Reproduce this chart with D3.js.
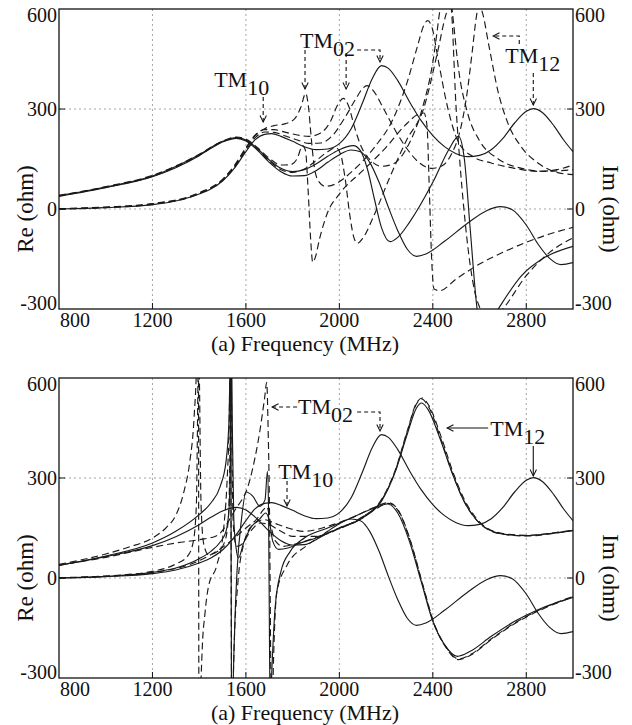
<!DOCTYPE html>
<html>
<head>
<meta charset="utf-8">
<script src="https://d3js.org/d3.v7.min.js"></script>
<style>
  body { margin: 0; background: #fff; }
  svg { display: block; }
</style>
</head>
<body>
<div id="chart"></div>
<script>
// axis ticks
const freqTicks = [800, 1200, 1600, 2000, 2400, 2800];
const ohmTicks = [-300, 0, 300, 600];

// reference case, drawn in both panels  [MHz, ohm]
const reS1 = [[800,0],[1000,4],[1200,13],[1300,24],[1400,45],[1450,60],[1500,84],[1550,122],[1600,172],[1640,208],[1680,224],[1710,226],[1750,218],[1800,203],[1850,187],[1900,178],[1950,180],[2000,196],[2050,240],[2100,320],[2140,390],[2180,430],[2210,422],[2250,385],[2300,322],[2350,265],[2400,220],[2450,187],[2500,166],[2550,157],[2600,161],[2650,178],[2700,212],[2750,258],[2800,293],[2830,301],[2870,289],[2920,248],[2960,207],[3000,172]];
const imS1 = [[800,38],[1000,64],[1200,97],[1300,124],[1400,160],[1450,182],[1500,201],[1560,212],[1600,204],[1650,176],[1700,140],[1750,112],[1800,99],[1850,100],[1900,115],[1950,140],[2000,163],[2050,177],[2090,172],[2130,140],[2170,80],[2210,5],[2250,-65],[2290,-120],[2330,-142],[2370,-135],[2450,-97],[2550,-42],[2630,-5],[2690,7],[2740,-2],[2800,-48],[2850,-105],[2900,-148],[2950,-167],[3000,-161]];

// top panel cases
const reA = [[800,1],[1000,6],[1200,16],[1400,49],[1500,89],[1550,130],[1600,184],[1640,222],[1680,241],[1720,250],[1770,256],[1810,272],[1835,305],[1856,347],[1868,305],[1880,210],[1893,125],[1912,82],[1940,68],[1980,74],[2050,110],[2150,185],[2230,270],[2290,380],[2335,490],[2362,552],[2378,565],[2395,548],[2425,440],[2460,315],[2510,200],[2570,158],[2650,138],[2750,122],[2850,113],[2930,118],[3000,132]];
const imA = [[800,41],[1000,67],[1200,101],[1400,164],[1500,204],[1560,216],[1600,210],[1650,184],[1700,152],[1750,132],[1790,133],[1820,152],[1842,190],[1855,175],[1866,60],[1877,-90],[1886,-160],[1897,-145],[1915,-90],[1950,-10],[2000,45],[2100,115],[2200,185],[2280,250],[2340,285],[2362,288],[2375,250],[2385,60],[2395,-150],[2405,-240],[2430,-245],[2500,-210],[2600,-165],[2700,-130],[2800,-100],[2900,-75],[3000,-55]];
const reB = [[800,0],[1000,5],[1200,15],[1400,47],[1500,87],[1550,127],[1600,181],[1640,220],[1680,238],[1720,238],[1770,230],[1820,222],[1870,218],[1920,228],[1960,260],[1995,315],[2017,332],[2040,308],[2065,245],[2095,185],[2135,145],[2180,128],[2230,135],[2290,185],[2350,290],[2400,440],[2435,620],[2458,720],[2482,600],[2510,420],[2550,285],[2600,205],[2680,150],[2780,122],[2880,113],[3000,118]];
const imB = [[800,39],[1000,65],[1200,98],[1400,161],[1500,202],[1560,213],[1600,206],[1650,179],[1700,144],[1750,118],[1800,110],[1850,120],[1900,145],[1950,172],[1985,184],[2005,165],[2025,90],[2045,-20],[2062,-85],[2077,-103],[2100,-88],[2146,-23],[2217,97],[2288,207],[2360,300],[2420,470],[2455,580],[2475,620],[2500,300],[2540,-50],[2580,-250],[2603,-300],[2630,-350],[2700,-300],[2800,-200],[2900,-130],[3000,-87]];
const reC = [[800,0],[1000,4],[1200,14],[1400,46],[1500,86],[1550,124],[1600,176],[1640,214],[1680,231],[1720,230],[1770,219],[1820,207],[1870,197],[1920,198],[1970,220],[2020,270],[2070,330],[2100,362],[2118,370],[2145,355],[2190,300],[2240,235],[2290,180],[2340,140],[2395,122],[2440,130],[2480,165],[2515,230],[2545,340],[2570,480],[2585,570],[2597,612],[2612,590],[2640,490],[2680,350],[2720,260],[2780,185],[2850,138],[2920,112],[3000,103]];
const imC = [[800,40],[1000,66],[1200,99],[1400,163],[1500,203],[1560,214],[1600,207],[1650,181],[1700,147],[1750,122],[1800,112],[1850,118],[1900,135],[1950,158],[2000,178],[2060,190],[2090,175],[2120,120],[2150,30],[2180,-55],[2217,-98],[2250,-85],[2300,-40],[2400,80],[2470,180],[2510,218],[2535,150],[2560,-60],[2589,-297],[2610,-380],[2680,-300],[2780,-200],[2880,-145],[3000,-112]];

// bottom panel cases
const reD = [[800,0],[1000,5],[1200,17],[1300,30],[1400,58],[1450,80],[1490,108],[1515,140],[1528,210],[1535,450],[1538,700],[1542,450],[1548,180],[1558,90],[1568,60],[1590,105],[1620,150],[1660,178],[1685,195],[1700,172],[1715,110],[1740,86],[1780,90],[1830,104],[1900,120],[2000,150],[2100,180],[2180,230],[2240,320],[2290,430],[2330,510],[2352,525],[2380,505],[2430,420],[2480,320],[2530,235],[2580,180],[2640,145],[2720,130],[2800,127],[2900,133],[3000,142]];
const imD = [[800,38],[1000,66],[1200,105],[1300,140],[1400,190],[1450,225],[1490,275],[1515,350],[1528,480],[1534,700],[1537,0],[1540,-700],[1545,-350],[1552,-150],[1562,20],[1580,170],[1601,258],[1630,245],[1660,215],[1682,235],[1692,320],[1697,200],[1701,-200],[1704,-400],[1712,-260],[1725,-90],[1750,20],[1790,80],[1850,120],[1950,150],[2050,180],[2150,210],[2205,222],[2250,195],[2300,110],[2350,-10],[2400,-130],[2450,-200],[2505,-235],[2560,-220],[2650,-175],[2750,-130],[2850,-95],[3000,-58]];
const reE = [[800,1],[1000,6],[1200,20],[1300,42],[1350,65],[1375,110],[1388,220],[1395,600],[1398,750],[1401,600],[1408,220],[1420,100],[1440,70],[1480,80],[1510,110],[1525,180],[1532,400],[1536,700],[1540,400],[1546,160],[1560,95],[1580,100],[1620,140],[1660,165],[1700,160],[1750,140],[1800,125],[1900,125],[2000,148],[2100,182],[2180,235],[2240,325],[2290,440],[2330,525],[2354,540],[2385,515],[2435,425],[2485,320],[2535,235],[2585,180],[2645,145],[2725,131],[2800,128],[2900,134],[3000,144]];
const imE = [[800,41],[1000,72],[1100,93],[1200,120],[1260,152],[1300,188],[1335,260],[1360,350],[1378,480],[1390,680],[1396,950],[1400,-950],[1404,-450],[1412,-230],[1425,-105],[1440,-25],[1475,37],[1505,150],[1520,300],[1528,450],[1534,700],[1537,0],[1540,-700],[1544,-400],[1550,-200],[1565,-20],[1590,100],[1630,160],[1680,175],[1720,165],[1780,150],[1850,140],[1950,155],[2050,180],[2150,212],[2210,226],[2255,200],[2305,110],[2355,-15],[2405,-135],[2455,-205],[2510,-243],[2565,-228],[2655,-180],[2755,-133],[2855,-96],[3000,-55]];
const reF = [[800,0],[1000,5],[1200,16],[1400,52],[1500,92],[1600,150],[1650,180],[1675,205],[1690,214],[1705,165],[1725,112],[1760,95],[1800,100],[1900,122],[2000,150],[2100,183],[2180,233],[2240,322],[2290,437],[2330,522],[2352,537],[2383,512],[2432,422],[2482,318],[2532,233],[2582,178],[2642,143],[2722,129],[2800,126],[2900,132],[3000,143]];
const imF = [[800,39],[1000,62],[1200,92],[1300,105],[1400,115],[1475,127],[1550,200],[1618,297],[1661,447],[1680,540],[1689,587],[1695,450],[1701,200],[1707,-296],[1712,-420],[1718,-250],[1732,-43],[1775,37],[1860,97],[1960,137],[2060,167],[2150,205],[2210,224],[2255,198],[2305,108],[2355,-17],[2405,-137],[2455,-207],[2510,-245],[2565,-230],[2655,-182],[2755,-135],[2855,-98],[3000,-57]];

const W = 632, H = 725;

// pick a Times-like face if one is installed, otherwise a sans face a bit smaller
function hasFont(name) {
  const c = document.createElement("canvas").getContext("2d");
  const s = "mmmmmmmmmmlli1234567890";
  c.font = "40px monospace";
  const a = c.measureText(s).width;
  c.font = `40px '${name}', monospace`;
  return c.measureText(s).width !== a;
}
const serifs = ["Liberation Serif", "Times New Roman", "DejaVu Serif", "Nimbus Roman", "Tinos", "FreeSerif", "Noto Serif"];
const serif = serifs.find(hasFont);
const FONT = serif ? `'${serif}', serif` : "'Liberation Sans', Arial, sans-serif";
const k = serif ? 1 : 0.88;

const svg = d3.select("#chart").append("svg")
    .attr("width", W)
    .attr("height", H)
    .style("font-family", FONT);

const x = d3.scaleLinear().domain([800, 3000]).range([59, 573]);

// open arrow head
const defs = svg.append("defs");
defs.append("marker")
    .attr("id", "head")
    .attr("viewBox", "0 0 10 10")
    .attr("refX", 9).attr("refY", 5)
    .attr("markerWidth", 8).attr("markerHeight", 8)
    .attr("markerUnits", "userSpaceOnUse")
    .attr("orient", "auto")
  .append("path")
    .attr("d", "M1,1 L9,5 L1,9")
    .attr("fill", "none")
    .attr("stroke", "#111")
    .attr("stroke-width", 1.3);

const panels = [
  {
    id: "top", y0: 9, y1: 309,
    curves: [
      { data: reS1, dash: false }, { data: imS1, dash: false },
      { data: reA, dash: true }, { data: imA, dash: true },
      { data: reB, dash: true }, { data: imB, dash: true },
      { data: reC, dash: true }, { data: imC, dash: false }
    ],
    labels: [
      { text: "TM", sub: "10", at: [1464, 366] },
      { text: "TM", sub: "02", at: [1832, 483] },
      { text: "TM", sub: "12", at: [2710, 438] }
    ],
    arrows: [
      { pts: [[1674, 336], [1674, 261]], dash: true },
      { pts: [[1853, 477], [1853, 360]], dash: true },
      { pts: [[2029, 468], [2029, 360]], dash: true },
      { pts: [[2076, 477], [2174, 477], [2174, 441]], dash: true },
      { pts: [[2770, 495], [2770, 519], [2658, 519]], dash: true },
      { pts: [[2830, 408], [2830, 312]], dash: true }
    ]
  },
  {
    id: "bottom", y0: 378, y1: 678,
    curves: [
      { data: reS1, dash: false }, { data: imS1, dash: false },
      { data: reD, dash: false }, { data: imD, dash: false },
      { data: reE, dash: true }, { data: imE, dash: true },
      { data: reF, dash: true }, { data: imF, dash: true }
    ],
    labels: [
      { text: "TM", sub: "02", at: [1823, 492] },
      { text: "TM", sub: "10", at: [1738, 297] },
      { text: "TM", sub: "12", at: [2646, 426] }
    ],
    arrows: [
      { pts: [[1819, 513], [1712, 513]], dash: true },
      { pts: [[2076, 498], [2174, 498], [2174, 441]], dash: true },
      { pts: [[1776, 291], [1776, 216]], dash: true },
      { pts: [[2637, 450], [2461, 450]], dash: false },
      { pts: [[2830, 396], [2830, 306]], dash: false }
    ]
  }
];

panels.forEach(p => {
  const y = d3.scaleLinear().domain([-300, 600]).range([p.y1, p.y0]);
  const g = svg.append("g");

  defs.append("clipPath").attr("id", "clip-" + p.id)
    .append("rect")
      .attr("x", x.range()[0]).attr("y", p.y0)
      .attr("width", x.range()[1] - x.range()[0])
      .attr("height", p.y1 - p.y0);

  // dotted grid
  g.selectAll(".vgrid").data(freqTicks.slice(1)).join("line")
      .attr("x1", d => x(d)).attr("x2", d => x(d))
      .attr("y1", p.y0).attr("y2", p.y1)
      .attr("stroke", "#9a9a9a").attr("stroke-width", 0.9)
      .attr("stroke-dasharray", "2,3");
  g.selectAll(".hgrid").data([0, 300]).join("line")
      .attr("x1", x.range()[0]).attr("x2", x.range()[1])
      .attr("y1", d => y(d)).attr("y2", d => y(d))
      .attr("stroke", "#9a9a9a").attr("stroke-width", 0.9)
      .attr("stroke-dasharray", "2,3");

  // curves
  const line = d3.line()
      .x(d => x(d[0]))
      .y(d => y(d[1]))
      .curve(d3.curveMonotoneX);
  g.append("g").attr("clip-path", "url(#clip-" + p.id + ")")
    .selectAll("path").data(p.curves).join("path")
      .attr("d", d => line(d.data))
      .attr("fill", "none")
      .attr("stroke", "#1a1a1a")
      .attr("stroke-width", 1.15)
      .attr("stroke-dasharray", d => d.dash ? "7,4" : null);

  // frame and inner ticks
  g.append("rect")
      .attr("x", x.range()[0]).attr("y", p.y0)
      .attr("width", x.range()[1] - x.range()[0])
      .attr("height", p.y1 - p.y0)
      .attr("fill", "none").attr("stroke", "#111").attr("stroke-width", 1.3);
  g.selectAll(".xt").data(freqTicks.slice(1)).join("line")
      .attr("x1", d => x(d)).attr("x2", d => x(d))
      .attr("y1", p.y1).attr("y2", p.y1 - 6)
      .attr("stroke", "#111");
  [x.range()[0], x.range()[1]].forEach((xx, i) => {
    g.selectAll(".yt" + i).data([0, 300]).join("line")
        .attr("x1", xx).attr("x2", i ? xx - 6 : xx + 6)
        .attr("y1", d => y(d)).attr("y2", d => y(d))
        .attr("stroke", "#111");
  });

  // tick labels
  const shift = d => d === 600 ? 13 : d === -300 ? 1 : 7;
  g.selectAll(".yl").data(ohmTicks).join("text")
      .attr("x", x.range()[0] - 2).attr("y", d => y(d) + shift(d))
      .attr("text-anchor", "end").attr("font-size", 20 * k)
      .attr("fill", "#111")
      .text(d => d);
  g.selectAll(".yr").data(ohmTicks).join("text")
      .attr("x", x.range()[1] + 2).attr("y", d => y(d) + shift(d))
      .attr("text-anchor", "start").attr("font-size", 20 * k)
      .attr("fill", "#111")
      .text(d => d);
  g.selectAll(".xl").data(freqTicks).join("text")
      .attr("x", d => d === 800 ? x(d) + 1 : x(d))
      .attr("y", p.y1 + 18)
      .attr("text-anchor", d => d === 800 ? "start" : "middle")
      .attr("font-size", 20 * k)
      .attr("fill", "#111")
      .text(d => d);

  // axis titles
  g.append("text")
      .attr("transform", `translate(33,${y(0)}) rotate(-90)`)
      .attr("text-anchor", "middle").attr("font-size", 23 * k)
      .attr("fill", "#111")
      .text("Re (ohm)");
  g.append("text")
      .attr("transform", `translate(603,${y(0)}) rotate(90)`)
      .attr("text-anchor", "middle").attr("font-size", 23 * k)
      .attr("fill", "#111")
      .text("Im (ohm)");
  g.append("text")
      .attr("x", 305).attr("y", p.y1 + 42)
      .attr("text-anchor", "middle").attr("font-size", 22 * k)
      .attr("fill", "#111")
      .text("(a) Frequency (MHz)");

  // mode labels
  p.labels.forEach(l => {
    const t = g.append("text")
        .attr("x", x(l.at[0])).attr("y", y(l.at[1]))
        .attr("font-size", 22 * k)
        .attr("fill", "#111");
    t.append("tspan").text(l.text);
    t.append("tspan").attr("dy", 8).text(l.sub);
  });

  // arrows
  const aline = d3.line().x(d => x(d[0])).y(d => y(d[1]));
  g.selectAll(".arrow").data(p.arrows).join("path")
      .attr("d", d => aline(d.pts))
      .attr("fill", "none")
      .attr("stroke", "#111").attr("stroke-width", 1.1)
      .attr("stroke-dasharray", d => d.dash ? "4,3" : null)
      .attr("marker-end", "url(#head)");
});
</script>
</body>
</html>
